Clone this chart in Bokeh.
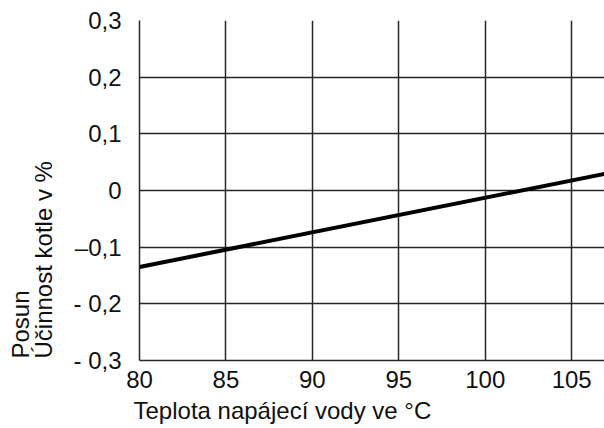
from bokeh.plotting import figure
from bokeh.models import FixedTicker, CustomJSTickFormatter, Title, Range1d
from bokeh.embed import file_html
from bokeh.resources import INLINE

# Data
temperature = [80, 107]
efficiency_shift = [-0.135, 0.030]

x_ticks = [80, 85, 90, 95, 100, 105]
x_tick_labels = ["80", "85", "90", "95", "100", "105"]
y_ticks = [-0.3, -0.2, -0.1, 0.0, 0.1, 0.2, 0.3]
y_tick_labels = ["- 0,3", "- 0,2", "\u20130,1", "0", "0,1", "0,2", "0,3"]

x_title = "Teplota napájecí vody ve °C"
y_title_1 = "Posun"
y_title_2 = "Účinnost kotle v %"

FONT = "Liberation Sans"
FS = "24px"
GRID = "#262626"

p = figure(width=604, height=428, output_backend="svg", toolbar_location=None,
           x_range=Range1d(80, 106.9), y_range=Range1d(-0.3, 0.3),
           min_border_left=139, min_border_right=0, min_border_top=20,
           min_border_bottom=68)
p.outline_line_color = None
p.background_fill_color = "white"
p.border_fill_color = "white"

fmt_code = """
let best = 0; let bd = 1e9;
for (let i = 0; i < tvals.length; i++) {
  const d = Math.abs(tvals[i] - tick);
  if (d < bd) { bd = d; best = i; }
}
return tlabels[best];
"""

p.xaxis.ticker = FixedTicker(ticks=x_ticks)
p.xaxis.formatter = CustomJSTickFormatter(args=dict(tvals=x_ticks, tlabels=x_tick_labels), code=fmt_code)
p.yaxis.ticker = FixedTicker(ticks=y_ticks)
p.yaxis.formatter = CustomJSTickFormatter(args=dict(tvals=y_ticks, tlabels=y_tick_labels), code=fmt_code)

for ax in (p.xaxis[0], p.yaxis[0]):
    ax.major_tick_line_color = None
    ax.minor_tick_line_color = None
    ax.axis_line_color = GRID
    ax.axis_line_width = 1.5
    ax.major_label_text_font = FONT
    ax.major_label_text_font_size = FS
    ax.major_label_text_color = "#111111"
p.xaxis.major_label_standoff = 4
p.yaxis.major_label_standoff = 12
# invisible spacer label between the y tick labels and the two-line title
p.yaxis.axis_label = " "
p.yaxis.axis_label_text_font_size = "2px"
p.yaxis.axis_label_standoff = 14

p.xgrid.grid_line_color = GRID
p.xgrid.grid_line_width = 1.5
p.ygrid.grid_line_color = GRID
p.ygrid.grid_line_width = 1.5

p.line(temperature, efficiency_shift, line_width=4, line_color="black")

def make_title(text, offset, standoff):
    return Title(text=text, align="left", offset=offset, standoff=standoff,
                 text_font=FONT, text_font_size=FS, text_font_style="normal",
                 text_color="#111111")

p.add_layout(make_title(x_title, -6, 8), "below")
p.add_layout(make_title(y_title_2, 2, -11), "left")
p.add_layout(make_title(y_title_1, 2, 0), "left")

open("out.html", "w").write(file_html(p, INLINE))
